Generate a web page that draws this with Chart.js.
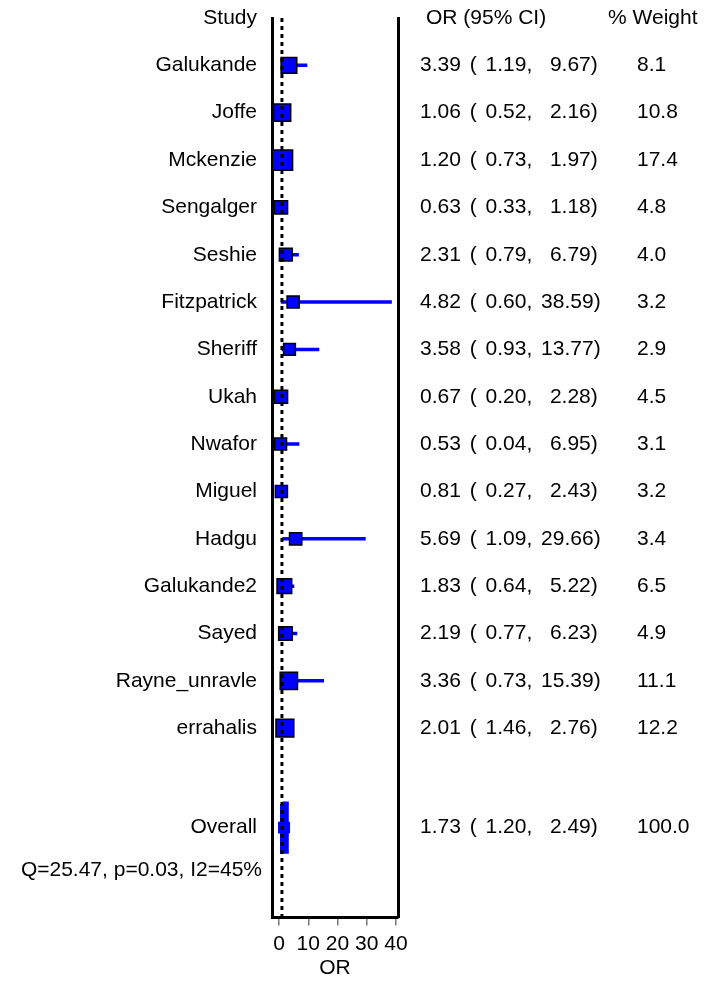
<!DOCTYPE html>
<html>
<head>
<meta charset="utf-8">
<title>Forest plot</title>
<script src="https://cdn.jsdelivr.net/npm/chart.js@4.4.0/dist/chart.umd.min.js"></script>
<style>
  html, body { margin: 0; padding: 0; background: #fff; }
  #wrap { width: 706px; height: 986px; }
</style>
</head>
<body>
<div id="wrap"><canvas id="forest" width="706" height="986"></canvas></div>
<script>
// ===== DATA =====
const studies = ['Galukande', 'Joffe', 'Mckenzie', 'Sengalger', 'Seshie', 'Fitzpatrick', 'Sheriff',
  'Ukah', 'Nwafor', 'Miguel', 'Hadgu', 'Galukande2', 'Sayed', 'Rayne_unravle', 'errahalis'];
const oddsRatios = [3.39, 1.06, 1.20, 0.63, 2.31, 4.82, 3.58, 0.67, 0.53, 0.81, 5.69, 1.83, 2.19, 3.36, 2.01];
const ciLower = [1.19, 0.52, 0.73, 0.33, 0.79, 0.60, 0.93, 0.20, 0.04, 0.27, 1.09, 0.64, 0.77, 0.73, 1.46];
const ciUpper = [9.67, 2.16, 1.97, 1.18, 6.79, 38.59, 13.77, 2.28, 6.95, 2.43, 29.66, 5.22, 6.23, 15.39, 2.76];
const weights = [8.1, 10.8, 17.4, 4.8, 4.0, 3.2, 2.9, 4.5, 3.1, 3.2, 3.4, 6.5, 4.9, 11.1, 12.2];

const overallLabel = 'Overall';
const overallOR = 1.73;
const overallLower = 1.20;
const overallUpper = 2.49;
const overallWeight = 100.0;
const heterogeneity = 'Q=25.47, p=0.03, I2=45%';

const headers = ['Study', 'OR (95% CI)', '% Weight'];
const xTicks = [0, 10, 20, 30, 40];
const nullValue = 1;

// ===== LAYOUT =====
const FONT_FAMILY = '"Liberation Sans", Arial, sans-serif';
const FONT_SIZE = 21;
const BLUE = '#0000ff';
const overallRow = studies.length + 2.1;
const hetRow = studies.length + 3;
const lastRow = studies.length + 4;

const studyRows = studies.map((s, i) => i + 1);

// CI segments, broken with null points
const ciPoints = [];
studies.forEach((s, i) => {
  ciPoints.push({ x: ciLower[i], y: studyRows[i] });
  ciPoints.push({ x: ciUpper[i], y: studyRows[i] });
  ciPoints.push({ x: ciUpper[i], y: null });
});

const boxPoints = studies.map((s, i) => ({ x: oddsRatios[i], y: studyRows[i] }));

// box side grows with weight
function boxSide(w) {
  return 6 + 3.4 * Math.sqrt(w);
}

const halfH = 0.5;
const overallShape = [
  { x: overallLower, y: overallRow - halfH },
  { x: overallUpper, y: overallRow - halfH },
  { x: overallUpper, y: overallRow + halfH },
  { x: overallLower, y: overallRow + halfH },
  { x: overallLower, y: overallRow - halfH }
];

function fmtStats(or, lo, hi) {
  return or.toFixed(2) + ' ( ' + lo.toFixed(2) + ', ' + hi.toFixed(2).padStart(5) + ')';
}

// ===== TEXT COLUMNS =====
const textColumns = {
  id: 'textColumns',
  afterDraw(chart) {
    const { ctx, chartArea, scales: { y } } = chart;
    const spacing = (px) => { if ('wordSpacing' in ctx) ctx.wordSpacing = px; };
    ctx.save();
    ctx.font = FONT_SIZE + 'px ' + FONT_FAMILY;
    ctx.fillStyle = '#000';
    ctx.textBaseline = 'middle';
    const labelRight = chartArea.left - 15;
    const statsLeft = 420;
    const weightLeft = 637;

    const row = (r, label, stats, weight) => {
      const py = y.getPixelForValue(r);
      spacing('0px');
      ctx.textAlign = 'right';
      ctx.fillText(label, labelRight, py);
      ctx.textAlign = 'left';
      ctx.fillText(weight, weightLeft, py);
      spacing('3px');
      ctx.fillText(stats, statsLeft, py);
    };

    const hy = y.getPixelForValue(0);
    spacing('0px');
    ctx.textAlign = 'right';
    ctx.fillText(headers[0], labelRight, hy);
    ctx.textAlign = 'left';
    ctx.fillText(headers[1], 426, hy);
    ctx.fillText(headers[2], 608, hy);

    studies.forEach((s, i) => {
      row(studyRows[i], s, fmtStats(oddsRatios[i], ciLower[i], ciUpper[i]), weights[i].toFixed(1));
    });
    row(overallRow, overallLabel, fmtStats(overallOR, overallLower, overallUpper), overallWeight.toFixed(1));

    spacing('0px');
    ctx.textAlign = 'right';
    ctx.fillText(heterogeneity, chartArea.left - 10, y.getPixelForValue(hetRow));
    ctx.restore();
  }
};

// ===== CHART =====
const frame = { display: true, color: '#000', width: 3 };
const hiddenY = (pos) => ({
  type: 'linear', position: pos, min: 0, max: lastRow, reverse: true,
  ticks: { display: false },
  grid: { display: false, drawTicks: false },
  border: frame,
  afterFit: (s) => { s.width = 0; }
});

new Chart(document.getElementById('forest'), {
  type: 'scatter',
  data: {
    datasets: [
      {
        // null line, drawn on top
        data: [{ x: nullValue, y: 0 }, { x: nullValue, y: lastRow }],
        showLine: true, borderColor: '#000', borderWidth: 3, borderDash: [4, 4],
        pointRadius: 0, clip: false
      },
      {
        data: boxPoints,
        pointStyle: 'rect',
        pointRadius: (c) => boxSide(weights[c.dataIndex]) / Math.SQRT2,
        backgroundColor: BLUE, borderColor: '#000', borderWidth: 1.5
      },
      {
        data: [{ x: overallOR, y: overallRow }],
        pointStyle: 'rect', pointRadius: 11 / Math.SQRT2,
        backgroundColor: BLUE, borderColor: BLUE, borderWidth: 1
      },
      {
        data: overallShape,
        showLine: true, fill: 'shape', backgroundColor: BLUE, borderColor: BLUE, borderWidth: 5,
        pointRadius: 0
      },
      {
        data: ciPoints,
        showLine: true, spanGaps: false, borderColor: BLUE, borderWidth: 3.5,
        pointRadius: 0
      }
    ]
  },
  options: {
    responsive: false,
    animation: false,
    devicePixelRatio: 1,
    layout: { padding: { left: 272, right: 308, top: 18, bottom: 0 } },
    plugins: { legend: { display: false }, tooltip: { enabled: false } },
    scales: {
      x: {
        type: 'linear', min: -2.4, max: 40.7,
        afterBuildTicks: (s) => { s.ticks = xTicks.map(v => ({ value: v })); },
        ticks: {
          color: '#000', padding: 6, autoSkip: false, maxRotation: 0,
          font: { family: FONT_FAMILY, size: FONT_SIZE }
        },
        grid: { drawOnChartArea: false, drawTicks: true, tickLength: 8, color: '#777', lineWidth: 1.5 },
        border: frame,
        title: {
          display: true, text: 'OR', color: '#000', padding: { top: 0, bottom: 12.75 },
          font: { family: FONT_FAMILY, size: FONT_SIZE, lineHeight: 0.5 }
        }
      },
      y: hiddenY('left'),
      y2: hiddenY('right')
    }
  },
  plugins: [textColumns]
});
</script>
</body>
</html>
